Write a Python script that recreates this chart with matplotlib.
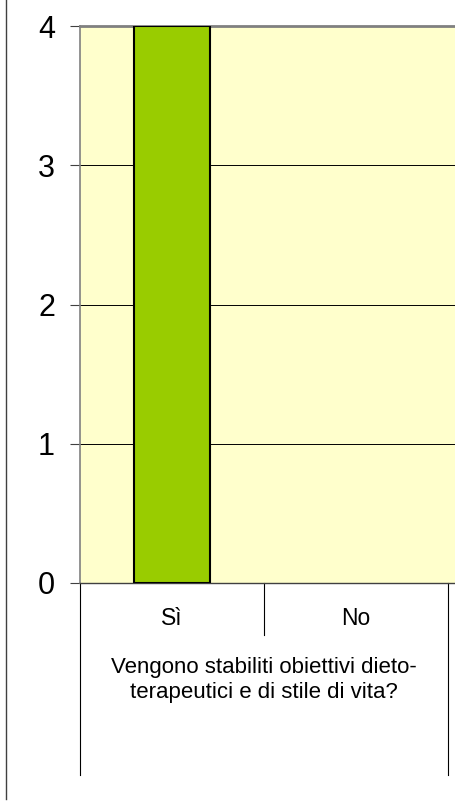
import matplotlib.pyplot as plt
from matplotlib.lines import Line2D

categories = ["Sì", "No"]
values = [4, 0]
group_label = "Vengono stabiliti obiettivi dieto-\nterapeutici e di stile di vita?"
yticks = [0, 1, 2, 3, 4]

plt.rcParams["font.family"] = ["Liberation Sans", "DejaVu Sans"]

fig = plt.figure(figsize=(4.56, 8.02), dpi=100)
ax = fig.add_axes([80 / 456, 1 - 583 / 802, 376 / 456, (583 - 26) / 802])
ax.set_facecolor("#FFFFCC")

x = list(range(len(categories)))
edges = ["black" if v > 0 else "none" for v in values]
ax.bar(x, values, width=0.41, color="#99CC00", edgecolor=edges, linewidth=1.5, zorder=3)

ax.set_xlim(-0.5, 1.5 + 8 / 184)
ax.set_ylim(0, 4)
ax.set_yticks(yticks)
ax.set_yticklabels([str(t) for t in yticks], fontsize=22)
ax.tick_params(axis="y", length=7, width=0.8, color="#404040", pad=11)
ax.set_xticks([])

for t in yticks[1:-1]:
    ax.axhline(t, color="black", linewidth=0.7, zorder=1)

ax.spines["right"].set_visible(False)
ax.spines["top"].set_color("#808080")
ax.spines["top"].set_linewidth(2)
ax.spines["left"].set_color("#808080")
ax.spines["left"].set_linewidth(1.2)
ax.spines["bottom"].set_color("#404040")
ax.spines["bottom"].set_linewidth(1.0)

tr = ax.get_xaxis_transform()

# category separators
ax.plot([-0.5, -0.5], [0, -0.345], transform=tr, color="black", lw=0.8, clip_on=False)
ax.plot([0.5, 0.5], [0, -0.093], transform=tr, color="black", lw=0.8, clip_on=False)
ax.plot([1.5, 1.5], [0, -0.345], transform=tr, color="black", lw=0.8, clip_on=False)

for xi, lab in zip(x, categories):
    ax.text(xi, -0.063, lab, transform=tr, ha="center", va="center", fontsize=16.5)

ax.text(0.5, -0.174, group_label, transform=tr, ha="center", va="center",
        fontsize=16, linespacing=1.3)

fig.add_artist(Line2D([6 / 456, 6 / 456], [1, 1 - 799 / 802], color="#404040", lw=1.0))

fig.savefig("out.png", dpi=100)
